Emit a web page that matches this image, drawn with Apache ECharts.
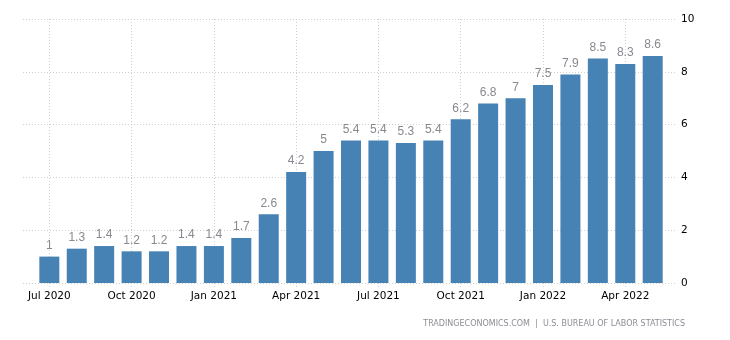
<!DOCTYPE html>
<html>
<head>
<meta charset="utf-8">
<style>
  html, body { margin: 0; padding: 0; background: #fff; }
  #chart { width: 730px; height: 340px; }
</style>
<script src="https://cdn.jsdelivr.net/npm/echarts@6/dist/echarts.min.js"></script>
</head>
<body>
<div id="chart"></div>
<script>
// Monthly periods, oldest first
const months = [
  'Jul 2020', 'Aug 2020', 'Sep 2020', 'Oct 2020', 'Nov 2020', 'Dec 2020',
  'Jan 2021', 'Feb 2021', 'Mar 2021', 'Apr 2021', 'May 2021', 'Jun 2021',
  'Jul 2021', 'Aug 2021', 'Sep 2021', 'Oct 2021', 'Nov 2021', 'Dec 2021',
  'Jan 2022', 'Feb 2022', 'Mar 2022', 'Apr 2022', 'May 2022'
];

// Percent values for each month
const values = [
  1, 1.3, 1.4, 1.2, 1.2, 1.4, 1.4, 1.7, 2.6, 4.2, 5, 5.4,
  5.4, 5.3, 5.4, 6.2, 6.8, 7, 7.5, 7.9, 8.5, 8.3, 8.6
];

// Quarterly labels shown along the bottom
const tickLabels = [
  'Jul 2020', 'Oct 2020', 'Jan 2021', 'Apr 2021',
  'Jul 2021', 'Oct 2021', 'Jan 2022', 'Apr 2022'
];

const sourceText = 'TRADINGECONOMICS.COM  |  U.S. BUREAU OF LABOR STATISTICS';

const tickPositions = tickLabels.map(l => months.indexOf(l));
const gridLine = { color: '#cfcfcf', width: 1, type: [1, 2] };

const chart = echarts.init(document.getElementById('chart'), null, { renderer: 'canvas' });

chart.setOption({
  animation: false,
  backgroundColor: '#ffffff',
  grid: { left: 23, right: 54, top: 19, bottom: 57, containLabel: false },
  xAxis: {
    type: 'value',
    min: -0.96,
    max: 22.85,
    axisLine: { show: false },
    axisTick: { show: true, length: 4, customValues: tickPositions, lineStyle: gridLine },
    splitLine: { show: true, lineStyle: gridLine },
    axisLabel: {
      customValues: tickPositions,
      formatter: v => months[Math.round(v)],
      color: '#000',
      fontFamily: 'DejaVu Sans',
      fontSize: 10.5,
      margin: 8
    }
  },
  yAxis: {
    type: 'value',
    position: 'right',
    min: 0,
    max: 10,
    interval: 2,
    axisLine: { show: false },
    axisTick: { show: false },
    splitLine: { show: true, lineStyle: gridLine },
    axisLabel: {
      color: '#000',
      fontFamily: 'DejaVu Sans',
      fontSize: 10.5,
      margin: 5
    }
  },
  series: [{
    type: 'bar',
    data: values.map((v, i) => [i, v]),
    barWidth: 20,
    itemStyle: { color: '#4682b4' },
    label: {
      show: true,
      position: 'top',
      distance: 5,
      color: '#888890',
      fontFamily: 'Liberation Sans',
      fontSize: 12
    }
  }],
  graphic: [{
    type: 'text',
    right: 45,
    top: 320,
    style: {
      text: sourceText,
      fill: '#8c8c96',
      font: '8px "DejaVu Sans"'
    }
  }]
});
</script>
</body>
</html>
